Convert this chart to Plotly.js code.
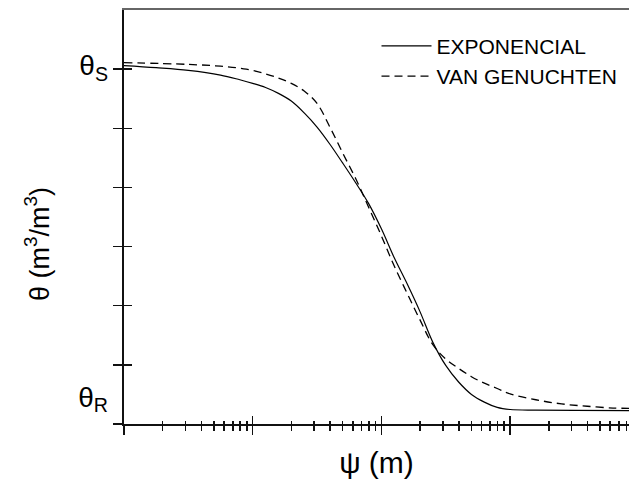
<!DOCTYPE html>
<html>
<head>
<meta charset="utf-8">
<script src="https://cdn.plot.ly/plotly-3.0.1.min.js"></script>
<style>html,body{margin:0;padding:0;background:#fff;}#chart{width:629px;height:480px;}</style>
</head>
<body>
<div id="chart"></div>
<script>
// Series names
const SERIES_NAMES = ['EXPONENCIAL', 'VAN GENUCHTEN'];

// EXPONENCIAL curve: suction psi (m) and relative water content (tick units, θR = 0, θS = 6)
const expPsi = [1, 1.778, 3.162, 5.623, 7.943, 10, 12.59, 15.85, 19.95, 25.12, 31.62, 39.81, 50.12, 63.1, 79.43, 100, 125.9, 158.5, 199.5, 251.2, 316.2, 398.1, 501.2, 631, 794.3, 1000, 1585, 3162, 8395];
const expTheta = [6.06, 6.025, 5.98, 5.90, 5.82, 5.76, 5.69, 5.59, 5.46, 5.26, 5.02, 4.73, 4.41, 4.08, 3.73, 3.30, 2.81, 2.37, 1.90, 1.38, 0.99, 0.71, 0.50, 0.37, 0.28, 0.245, 0.235, 0.23, 0.225];

// VAN GENUCHTEN curve
const vgPsi = [1, 3.162, 5.623, 8.913, 12.59, 15.85, 19.95, 25.12, 31.62, 39.81, 50.12, 63.1, 79.43, 100, 125.9, 158.5, 199.5, 251.2, 316.2, 398.1, 501.2, 631, 794.3, 1000, 1585, 2512, 3981, 6310, 8395];
const vgTheta = [6.11, 6.08, 6.05, 6.00, 5.92, 5.85, 5.76, 5.63, 5.42, 5.02, 4.58, 4.15, 3.67, 3.18, 2.67, 2.21, 1.76, 1.34, 1.10, 0.94, 0.80, 0.69, 0.60, 0.51, 0.41, 0.34, 0.30, 0.27, 0.265];

// Axis ticks
const xMajorTicks = [1, 10, 100, 1000];
const yTicks = [0, 1, 2, 3, 4, 5, 6];
const yTickText = ['θ<sub>R</sub>', 'θ<sub>S</sub>'];

// minor ticks 2..9 of every decade (axis configuration)
const xMinorTicks = [];
xMajorTicks.forEach(d => { for (let k = 2; k <= 9; k++) xMinorTicks.push(d * k); });

const X_RANGE = [0, 3.924];
const Y_RANGE = [0, 7];
const INK = '#111';
const FONT = 'Arial, "Liberation Sans", Helvetica, sans-serif';

const traces = [
  { x: expPsi, y: expTheta, name: SERIES_NAMES[0], type: 'scatter', mode: 'lines',
    xaxis: 'x', yaxis: 'y',
    line: { color: '#000', width: 1.2, shape: 'spline', smoothing: 1.0 } },
  { x: vgPsi, y: vgTheta, name: SERIES_NAMES[1], type: 'scatter', mode: 'lines',
    xaxis: 'x2', yaxis: 'y2',
    line: { color: '#000', width: 1.3, dash: '8px,5px', shape: 'spline', smoothing: 1.0 } },
  // empty helper so the extra overlay axes (top frame line, tick labels) get drawn
  { x: [], y: [], xaxis: 'x3', yaxis: 'y3', type: 'scatter', mode: 'lines', showlegend: false, hoverinfo: 'skip' }
];

const baseX = { type: 'log', range: X_RANGE, showgrid: false, zeroline: false, showticklabels: false, fixedrange: true };
const baseY = { range: Y_RANGE, showgrid: false, zeroline: false, fixedrange: true };

const layout = {
  width: 629, height: 480,
  margin: { l: 124, r: 0, t: 10, b: 56 },
  paper_bgcolor: '#fff', plot_bgcolor: '#fff',
  font: { family: FONT, color: '#000' },
  showlegend: true,
  legend: { x: 0.5, y: 0.962, xanchor: 'left', yanchor: 'top', bgcolor: 'rgba(0,0,0,0)',
            font: { size: 21, family: FONT, color: '#000' }, traceorder: 'normal', tracegroupgap: 0,
            itemwidth: 50 },
  xaxis: Object.assign({}, baseX, {
    anchor: 'y', showline: true, linewidth: 2, linecolor: INK,
    tickmode: 'array', tickvals: xMajorTicks, ticks: 'outside', ticklen: 9, tickwidth: 1.5, tickcolor: INK,
    minor: { tickmode: 'array', tickvals: xMinorTicks, ticks: 'outside', ticklen: 5, tickwidth: 1.5, tickcolor: INK, showgrid: false },
    title: { text: 'ψ (m)', font: { size: 30, family: FONT, color: '#000' }, standoff: 18 }
  }),
  xaxis2: Object.assign({}, baseX, {
    overlaying: 'x', anchor: 'y2', side: 'bottom', showline: false,
    tickmode: 'array', tickvals: xMajorTicks, ticks: 'inside', ticklen: 8, tickwidth: 1.5, tickcolor: INK,
    minor: { tickmode: 'array', tickvals: xMinorTicks, ticks: 'inside', ticklen: 3, tickwidth: 1.5, tickcolor: INK, showgrid: false }
  }),
  xaxis3: Object.assign({}, baseX, {
    overlaying: 'x', anchor: 'y3', side: 'top', showline: true, linewidth: 2, linecolor: '#666', ticks: ''
  }),
  yaxis: Object.assign({}, baseY, {
    anchor: 'x', showline: true, linewidth: 2, linecolor: INK,
    tickmode: 'array', tickvals: yTicks, ticks: 'outside', ticklen: 9, tickwidth: 1.5, tickcolor: INK,
    showticklabels: false
  }),
  yaxis2: Object.assign({}, baseY, {
    overlaying: 'y', anchor: 'x2', side: 'left', showline: false,
    tickmode: 'array', tickvals: yTicks, ticks: 'inside', ticklen: 8, tickwidth: 1.5, tickcolor: INK,
    showticklabels: false
  }),
  yaxis3: Object.assign({}, baseY, {
    overlaying: 'y', anchor: 'x3', side: 'left', showline: false, ticks: '',
    tickmode: 'array', tickvals: [0.46, 6.07], ticktext: yTickText, showticklabels: true,
    tickfont: { size: 28, family: FONT, color: '#000' }, ticklabelstandoff: 15
  }),
  annotations: [{
    text: 'θ (m<sup>3</sup>/m<sup>3</sup>)', textangle: -90, showarrow: false,
    xref: 'paper', yref: 'paper', x: -0.172, y: 0.435, xanchor: 'center', yanchor: 'middle',
    font: { size: 27, family: FONT, color: '#000' }
  }]
};

Plotly.newPlot('chart', traces, layout, { displayModeBar: false, staticPlot: true });
</script>
</body>
</html>
